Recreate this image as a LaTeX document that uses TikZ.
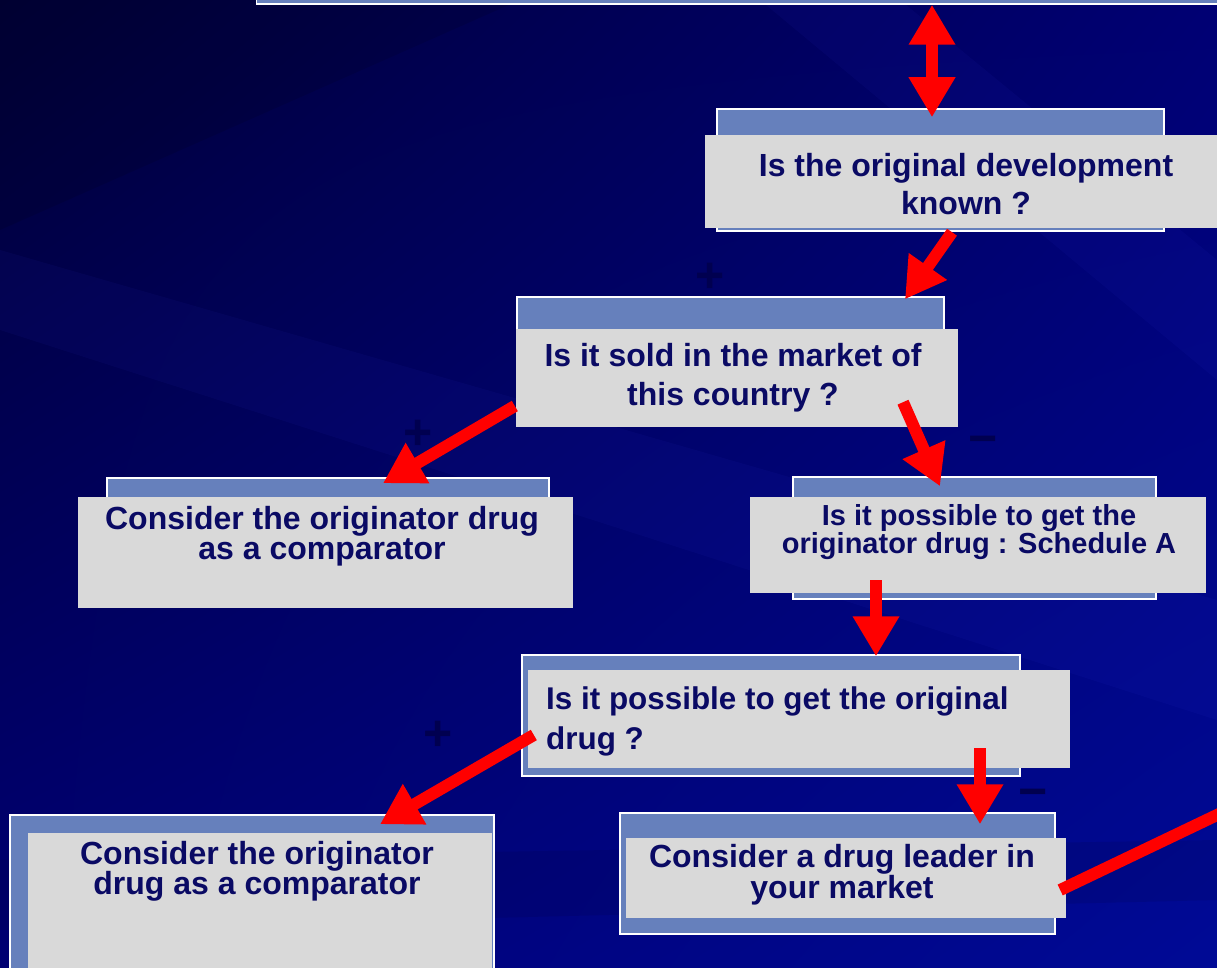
\documentclass[tikz,border=0pt]{standalone}
\usepackage{fontspec}
\setmainfont{Liberation Sans}
\usetikzlibrary{positioning,calc,arrows.meta,shadings}
\definecolor{DeepBlue}{RGB}{0,0,55}
\definecolor{NightBlue}{RGB}{0,0,115}
\definecolor{SlideBlue}{RGB}{0,10,150}
\definecolor{FrameBlue}{RGB}{102,128,188}
\definecolor{CardGray}{RGB}{217,217,217}
\definecolor{InkNavy}{RGB}{10,10,100}
\definecolor{SignBlue}{RGB}{0,0,80}
\tikzset{
  panelbox/.style={draw=white,line width=1.5pt,fill=FrameBlue,inner sep=0pt},
  cardbox/.style={fill=CardGray,inner sep=0pt},
  cardtext/.style={text=InkNavy,inner sep=0pt,align=center,
    font=\bfseries\fontsize{32}{30}\selectfont},
  marksign/.style={text=SignBlue,inner sep=0pt,font=\bfseries\fontsize{50}{50}\selectfont},
  redarrow/.style={draw=red,line width=12pt,-{Triangle[length=40pt,width=44pt]}},
  redboth/.style={draw=red,line width=12pt,{Triangle[length=40pt,width=44pt]}-{Triangle[length=40pt,width=44pt]}},
}

\begin{document}
\begin{tikzpicture}[x=1pt,y=-1pt]
\useasboundingbox (0,0) rectangle (1217,968);
% background
\shade[upper left=DeepBlue,upper right=NightBlue,lower left=NightBlue,lower right=SlideBlue]
  (0,0) rectangle (1217,968);
\fill[black,opacity=0.10] (0,0) -- (520,0) -- (0,230) -- cycle;
\fill[blue!70!white,opacity=0.05] (0,250) -- (0,330) -- (1217,720) -- (1217,600) -- cycle;
\fill[black,opacity=0.08] (0,860) -- (0,930) -- (1217,900) -- (1217,840) -- cycle;
\fill[blue!70!white,opacity=0.05] (760,0) -- (900,0) -- (1217,260) -- (1217,380) -- cycle;
% faint signs
\node[marksign] (p1) at (418,435) {+};
\node[marksign] (p2) at (438,736) {+};
\node[marksign] (p3) at (710,278) {+};
\node[marksign] (m1) at (983,446) {−};
\node[marksign] (m2) at (1033,799) {−};
% boxes
\node[panelbox,minimum width=973pt,minimum height=64pt] (f0) at (743,-28) {};
\node[panelbox,minimum width=447pt,minimum height=122pt] (f1) at (940.5,170) {};
\node[cardbox,minimum width=520pt,minimum height=93pt] (q1) at (965,181.5) {};
\node[cardtext,font=\bfseries\fontsize{32}{38}\selectfont] (t1) at (966,184.5)
  {Is the original development\\known ?};
\node[panelbox,minimum width=427pt,minimum height=123pt] (f2) at (730.5,358.5) {};
\node[cardbox,minimum width=442pt,minimum height=98pt] (q2) at (737,378) {};
\node[cardtext,font=\bfseries\fontsize{32}{39}\selectfont] (t2) at (733,377.5)
  {Is it sold in the market of\\this country ?};
\node[panelbox,minimum width=442pt,minimum height=122pt] (f3) at (328,539) {};
\node[cardbox,minimum width=495pt,minimum height=111pt] (q3) at (325.5,552.5) {};
\node[cardtext] (t3) at (322,536) {Consider the originator drug\\as a comparator};
\node[panelbox,minimum width=363pt,minimum height=122pt] (f4) at (974.5,538) {};
\node[cardbox,minimum width=456pt,minimum height=96pt] (q4) at (978,545) {};
\node[cardtext,font=\bfseries\fontsize{29}{26}\selectfont] (t4) at (979,532)
  {Is it possible to get the\\originator drug : Schedule A};
\node[panelbox,minimum width=498pt,minimum height=121pt] (f5) at (771,715.5) {};
\node[cardbox,minimum width=542pt,minimum height=98pt] (q5) at (799,719) {};
\node[cardtext,align=left,anchor=west,font=\bfseries\fontsize{31.4}{40}\selectfont] (t5) at (546,721)
  {Is it possible to get the original\\drug ?};
\node[panelbox,minimum width=484pt,minimum height=184pt] (f6) at (252,907) {};
\node[cardbox,minimum width=464pt,minimum height=167pt] (q6) at (260,916.5) {};
\node[cardtext] (t6) at (257,871) {Consider the originator\\drug as a comparator};
\node[panelbox,minimum width=435pt,minimum height=121pt] (f7) at (837.5,873.5) {};
\node[cardbox,minimum width=440pt,minimum height=80pt] (q7) at (846,878) {};
\node[cardtext,font=\bfseries\fontsize{32}{28}\selectfont] (t7) at (842,875)
  {Consider a drug leader in\\your market};
\coordinate (out) at (1240,804);
% arrows
\draw[redboth] ([xshift=189pt]f0.south) -- ([xshift=-8.5pt,yshift=-9pt]f1.north);
\draw[redarrow] ([xshift=-13pt,yshift=-4pt]q1.south) -- ([xshift=174.5pt,yshift=-3pt]f2.north);
\draw[redarrow] ([xshift=-1pt,yshift=-28pt]q2.west) -- ([xshift=55pt,yshift=-6pt]f3.north);
\draw[redarrow] ([xshift=166pt,yshift=25pt]q2.south) -- ([xshift=-34.5pt,yshift=-10pt]f4.north);
\draw[redarrow] ([xshift=-102pt,yshift=13pt]q4.south) -- ([xshift=105pt,yshift=-2pt]f5.north);
\draw[redarrow] ([xshift=6pt,yshift=-16pt]q5.west) -- ([xshift=128pt,yshift=-10pt]f6.north);
\draw[redarrow] ([xshift=181pt,yshift=20pt]q5.south) -- ([xshift=142.5pt,yshift=-12pt]f7.north);
\draw[draw=red,line width=12pt] ([xshift=-6pt,yshift=-12pt]q7.east) -- (out);
\end{tikzpicture}
\end{document}
